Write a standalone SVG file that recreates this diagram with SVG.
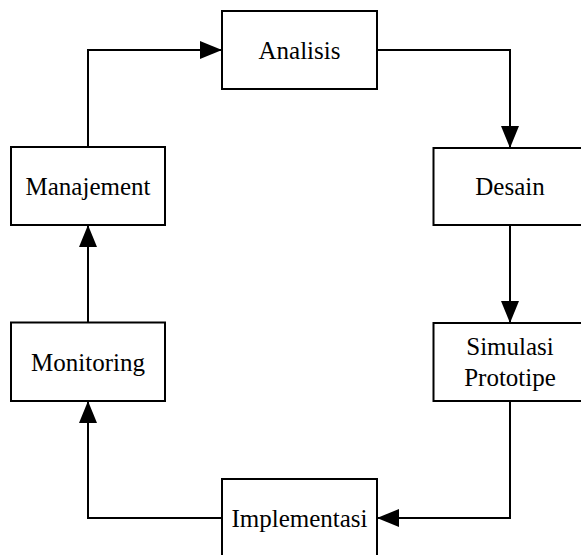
<svg xmlns="http://www.w3.org/2000/svg" width="581" height="555" viewBox="0 0 581 555">
<style>
.box{fill:#fff;stroke:#000;stroke-width:2}
.lbl{font-family:"Liberation Serif","Times New Roman",serif;font-size:25px;fill:#000;text-anchor:middle}
.edge{fill:none;stroke:#000;stroke-width:2}
</style>
<defs>
<marker id="arr" viewBox="0 0 22 18" refX="22" refY="9" markerWidth="22" markerHeight="18" markerUnits="userSpaceOnUse" orient="auto">
<path d="M0,0 L22,9 L0,18 z" fill="#000"/>
</marker>
</defs>
<rect width="581" height="555" fill="#fff"/>
<g id="edges">
<path class="edge" d="M88,147 V50 H222" marker-end="url(#arr)"/>
<path class="edge" d="M377,50 H510 V148" marker-end="url(#arr)"/>
<path class="edge" d="M510,225 V323" marker-end="url(#arr)"/>
<path class="edge" d="M510,401 V518 H377" marker-end="url(#arr)"/>
<path class="edge" d="M222,518 H88 V401" marker-end="url(#arr)"/>
<path class="edge" d="M88,323 V225" marker-end="url(#arr)"/>
</g>
<g id="analisis"><rect class="box" x="222" y="11" width="155" height="78"/><text class="lbl" x="299.5" y="58.5">Analisis</text></g>
<g id="desain"><rect class="box" x="433.5" y="148" width="155" height="77"/><text class="lbl" x="510" y="195">Desain</text></g>
<g id="simulasi"><rect class="box" x="433.5" y="323" width="155" height="78"/><text class="lbl" x="510" y="355">Simulasi</text><text class="lbl" x="510" y="386">Prototipe</text></g>
<g id="implementasi"><rect class="box" x="222" y="479" width="155" height="78"/><text class="lbl" x="299.5" y="527">Implementasi</text></g>
<g id="monitoring"><rect class="box" x="11" y="322.5" width="154" height="78.5"/><text class="lbl" x="88" y="371">Monitoring</text></g>
<g id="manajement"><rect class="box" x="11" y="147" width="154" height="78"/><text class="lbl" x="88" y="195">Manajement</text></g>
</svg>
